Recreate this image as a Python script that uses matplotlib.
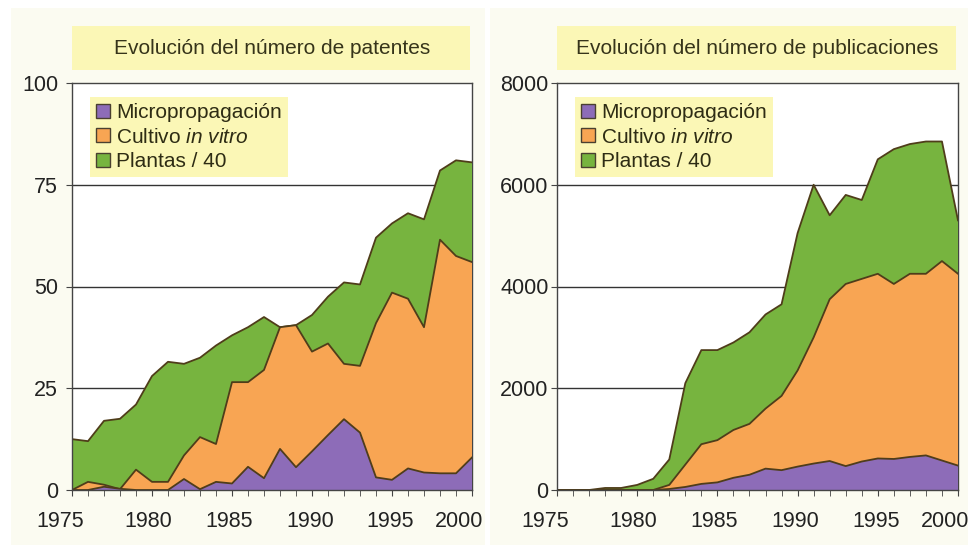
import matplotlib
matplotlib.use("Agg")
import matplotlib.pyplot as plt
from matplotlib.patches import Patch, Rectangle
from matplotlib.transforms import ScaledTranslation

plt.rcParams['font.family'] = ['Liberation Sans', 'DejaVu Sans']
plt.rcParams['mathtext.fontset'] = 'custom'
plt.rcParams['mathtext.rm'] = 'Liberation Sans'
plt.rcParams['mathtext.it'] = 'Liberation Sans:italic'

# data
years = list(range(1975, 2001))

pat_plantas = [12.5, 12, 17, 17.5, 21, 28, 31.5, 31, 32.5, 35.5, 38, 40, 42.5,
               40, 40.5, 43, 47.5, 51, 50.5, 62, 65.5, 68, 66.5, 78.5, 81, 80.5]
pat_cultivo = [0, 2, 1.3, 0.2, 5, 2, 2, 8.5, 13, 11.3, 26.5, 26.5, 29.5,
               40, 40.5, 34, 36, 31, 30.5, 41, 48.5, 47, 40, 61.5, 57.5, 56]
pat_micro = [0, 0, 0.8, 0.3, 0, 0, 0, 2.7, 0.2, 2, 1.6, 5.7, 2.9,
             10.1, 5.6, 9.5, 13.5, 17.4, 14.1, 3.1, 2.5, 5.3, 4.3, 4.1, 4.1, 8]

pub_plantas = [0, 0, 0, 40, 40, 100, 220, 600, 2100, 2750, 2750, 2900, 3100,
               3450, 3650, 5050, 6000, 5400, 5800, 5700, 6500, 6700, 6800, 6850, 6850, 5300]
pub_cultivo = [0, 0, 0, 0, 0, 0, 0, 100, 500, 900, 980, 1180, 1300,
               1600, 1850, 2350, 3000, 3750, 4050, 4150, 4250, 4050, 4250, 4250, 4500, 4250]
pub_micro = [0, 0, 0, 0, 0, 0, 0, 20, 60, 120, 150, 240, 300,
             420, 390, 460, 520, 570, 470, 560, 620, 610, 650, 680, 580, 480]

titles = ['Evolución del número de patentes', 'Evolución del número de publicaciones']
labels = ['Micropropagación', 'Cultivo $\\it{in\\ vitro}$', 'Plantas / 40']

c_micro = '#8d6cb8'
c_cult = '#f8a553'
c_plant = '#77b43f'
c_edge = '#4f3d1a'
c_yellow = '#fbf7b6'

W, H = 972, 554
fig = plt.figure(figsize=(9.72, 5.54), dpi=100)
fig.patch.set_facecolor('white')

# cream backgrounds of both panels
for x0, x1 in [(11, 485), (490, 968)]:
    fig.patches.append(Rectangle((x0 / W, 1 - 545 / H), (x1 - x0) / W, 537 / H,
                                 transform=fig.transFigure, facecolor='#fbfbf1',
                                 edgecolor='none', zorder=-3))

def panel(left_px, right_px, series, ymax, yticks, title, ypad):
    ax = fig.add_axes([left_px / W, 1 - 490 / H, (right_px - left_px) / W, 407 / H])
    ax.set_zorder(1)
    ax.set_facecolor('white')
    plant, cult, micro = series
    ax.fill_between(years, 0, plant, facecolor=c_plant, edgecolor='none', zorder=2)
    ax.plot(years, plant, color=c_edge, lw=1.3, zorder=2.1)
    ax.fill_between(years, 0, cult, facecolor=c_cult, edgecolor='none', zorder=2.2)
    ax.plot(years, cult, color=c_edge, lw=1.3, zorder=2.3)
    ax.fill_between(years, 0, micro, facecolor=c_micro, edgecolor='none', zorder=2.4)
    ax.plot(years, micro, color=c_edge, lw=1.3, zorder=2.5)

    ax.set_xlim(1975, 2000)
    ax.set_ylim(0, ymax)
    ax.set_yticks(yticks)
    ax.set_xticks(range(1975, 2001, 5))
    ax.set_xticks(years, minor=True)
    for yv in yticks[1:-1]:
        ax.axhline(yv, color='#333333', lw=1.0, zorder=1)
    for s in ax.spines.values():
        s.set_color('#444444')
        s.set_linewidth(1.0)
    ax.spines['right'].set_zorder(1.5)
    ax.tick_params(axis='both', which='both', direction='out', length=4,
                   color='#444444', labelsize=15.5, labelcolor='#222222')
    ax.tick_params(axis='y', pad=ypad)
    ax.tick_params(axis='x', pad=11)

    # end labels sit a bit left of their ticks in the original
    fig.canvas.draw()
    xl = ax.get_xticklabels()
    shifts = [-12, -4, -3, -2, -2, -13]
    for lab, dx in zip(xl, shifts):
        lab.set_transform(lab.get_transform() + ScaledTranslation(dx / 100, 0, fig.dpi_scale_trans))

    handles = [Patch(facecolor=c, edgecolor='#4a4030', lw=1.0) for c in (c_micro, c_cult, c_plant)]
    leg = ax.legend(handles, labels, loc='upper left', bbox_to_anchor=(0.045, 0.965),
                    fontsize=15, frameon=True, fancybox=False, facecolor=c_yellow,
                    edgecolor='none', framealpha=1, handlelength=0.65, handleheight=0.65,
                    handletextpad=0.3, labelspacing=0.25, borderpad=0.3, borderaxespad=0)
    leg.set_zorder(5)
    for t in leg.get_texts():
        t.set_color('#2e2c14')

    # title box above the plot
    fig.patches.append(Rectangle((left_px / W, 1 - 70 / H), (right_px - left_px - 2) / W, 44 / H,
                                 transform=fig.transFigure, facecolor=c_yellow,
                                 edgecolor='none', zorder=-2))
    fig.text((left_px + right_px) / 2 / W, 1 - 48 / H, title, ha='center', va='center',
             fontsize=15, color='#36341a')
    return ax

panel(72, 472, (pat_plantas, pat_cultivo, pat_micro), 100, [0, 25, 50, 75, 100], titles[0], 6)
panel(557, 958, (pub_plantas, pub_cultivo, pub_micro), 8000, [0, 2000, 4000, 6000, 8000], titles[1], 2)

fig.savefig('out.png', dpi=100, facecolor=fig.get_facecolor())
